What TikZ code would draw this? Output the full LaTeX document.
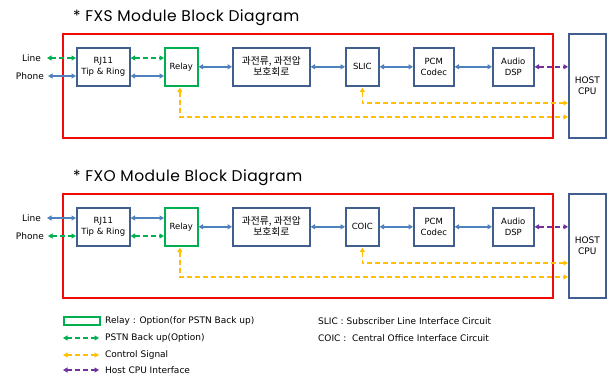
\documentclass[tikz,border=0pt]{standalone}
\usepackage{fontspec}
\setmainfont{DejaVu Sans}
\newfontfamily\krfont{Noto Sans CJK KR}
\newfontfamily\titlefont[LetterSpace=3]{Poppins}
\usetikzlibrary{arrows.meta}
\definecolor{boxblue}{RGB}{65,95,140}
\definecolor{lineblue}{RGB}{79,129,189}
\definecolor{framered}{RGB}{240,10,10}
\definecolor{optgreen}{RGB}{0,176,80}
\definecolor{ctrlyellow}{RGB}{255,192,0}
\definecolor{hostpurple}{RGB}{112,48,160}
\tikzset{
  blk/.style={draw=boxblue, line width=1.6pt, fill=white, align=center,
    font=\fontsize{8.5}{10.5}\selectfont, inner sep=0pt},
  relaybox/.style={blk, draw=optgreen},
  frame/.style={draw=framered, line width=2pt},
  tips/.style={{Triangle[length=4.5pt,width=5pt]}-{Triangle[length=4.5pt,width=5pt]}},
  bluearr/.style={tips, draw=lineblue, line width=1.5pt},
  greenarr/.style={tips, draw=optgreen, line width=1.5pt, dash pattern=on 5pt off 3pt},
  purplearr/.style={tips, draw=hostpurple, line width=1.5pt, dash pattern=on 5pt off 3pt},
  ctrlarr/.style={tips, draw=ctrlyellow, line width=1.5pt, dash pattern=on 5pt off 3pt},
  sidelabel/.style={anchor=east, font=\fontsize{9}{10}\selectfont, inner sep=0pt},
  titletext/.style={anchor=west, font=\titlefont\fontsize{15.5}{18}\selectfont, inner sep=0pt},
  legtext/.style={anchor=west, font=\fontsize{9}{10}\selectfont, inner sep=0pt},
}
% #1 prefix, #2 title, #3 interface chip, #4 style top (Line), #5 style bottom (Phone)
\newcommand\blockdiagram[5]{%
  \node[titletext] (#1title) at (73,-15) {#2};
  \node[frame, draw, minimum width=490, minimum height=104, anchor=north west, inner sep=0] (#1frame) at (62,0) {};
  \node[blk, minimum width=37, minimum height=104, anchor=north west, font=\fontsize{9}{11}\selectfont] (#1host) at (568,0) {HOST\\CPU};
  \node[blk, minimum width=53, minimum height=38, anchor=north west] (#1rj) at (76,14) {RJ11\\Tip \& Ring};
  \node[relaybox, minimum width=33, minimum height=38, anchor=north west] (#1relay) at (164,14) {Relay};
  \node[blk, minimum width=77, minimum height=38, anchor=north west, font=\krfont\fontsize{9.8}{11}\selectfont] (#1prot) at (232,14) {과전류, 과전압\\보호회로};
  \node[blk, minimum width=33, minimum height=38, anchor=north west] (#1ic) at (345,14) {#3};
  \node[blk, minimum width=40, minimum height=38, anchor=north west] (#1pcm) at (413,14) {PCM\\Codec};
  \node[blk, minimum width=41, minimum height=38, anchor=north west] (#1dsp) at (492,14) {Audio\\DSP};
  \node[sidelabel] (#1line) at (41,25) {Line};
  \node[sidelabel] (#1phone) at (44,43) {Phone};
  \coordinate (#1la) at (47,25);
  \coordinate (#1pa) at (48,43);
  \coordinate (#1c1) at (568,70);
  \coordinate (#1c2) at (568,84);
  \draw[#4] (#1la) -- (#1rj.west |- #1la);
  \draw[#5] (#1pa) -- (#1rj.west |- #1pa);
  \draw[#4] (#1rj.east |- #1la) -- (#1relay.west |- #1la);
  \draw[#5] (#1rj.east |- #1pa) -- (#1relay.west |- #1pa);
  \draw[bluearr] (#1relay) -- (#1prot);
  \draw[bluearr] (#1prot) -- (#1ic);
  \draw[bluearr] (#1ic) -- (#1pcm);
  \draw[bluearr] (#1pcm) -- (#1dsp);
  \draw[purplearr] (#1dsp) -- (#1host.west |- #1dsp);
  \draw[ctrlarr] ([yshift=-1pt]#1ic.south) |- (#1c1);
  \draw[ctrlarr] ([xshift=-1.5pt,yshift=-1pt]#1relay.south) |- (#1c2);
}
\begin{document}
\begin{tikzpicture}[x=1pt,y=-1pt]
\useasboundingbox[fill=white] (0,0) rectangle (613,376);
\begin{scope}[shift={(0,33)}]
  \blockdiagram{s}{* FXS Module Block Diagram}{SLIC}{greenarr}{bluearr}
\end{scope}
\begin{scope}[shift={(0,193)}]
  \blockdiagram{o}{* FXO Module Block Diagram}{COIC}{bluearr}{greenarr}
\end{scope}
% legend
\node[draw=optgreen, line width=1.6pt, minimum width=36, minimum height=8, inner sep=0, anchor=west] (legbox) at (63,321) {};
\coordinate (g1a) at (63,338); \coordinate (g1b) at (99,338);
\coordinate (g2a) at (63,355); \coordinate (g2b) at (99,355);
\coordinate (g3a) at (63,370); \coordinate (g3b) at (99,370);
\draw[greenarr] (g1a) -- (g1b);
\draw[ctrlarr] (g2a) -- (g2b);
\draw[purplearr] (g3a) -- (g3b);
\node[legtext] (t1) at (105,321) {Relay : Option(for PSTN Back up)};
\node[legtext] (t2) at (105,338) {PSTN Back up(Option)};
\node[legtext] (t3) at (105,355) {Control Signal};
\node[legtext] (t4) at (105,370) {Host CPU Interface};
\node[legtext] (t5) at (318,321) {SLIC : Subscriber Line Interface Circuit};
\node[legtext] (t6) at (318,338) {COIC :\ \ Central Office Interface Circuit};
\end{tikzpicture}
\end{document}
